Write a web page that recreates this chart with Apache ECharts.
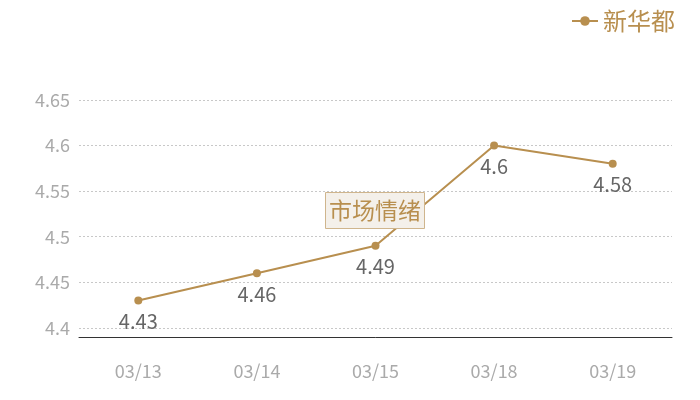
<!DOCTYPE html>
<html>
<head>
<meta charset="utf-8">
<script src="https://cdn.jsdelivr.net/npm/echarts@6/dist/echarts.min.js"></script>
<style>html,body{margin:0;padding:0;background:#fff}#c{width:700px;height:400px}</style>
</head>
<body>
<div id="c"></div>
<script>
var categories = ['03/13', '03/14', '03/15', '03/18', '03/19'];
var seriesName = '新华都';
var values = [4.43, 4.46, 4.49, 4.6, 4.58];
var annotationText = '市场情绪';

var gold = '#b88f4f';
var font = '"Noto Sans CJK SC", "Noto Sans", sans-serif';
var chart = echarts.init(document.getElementById('c'));
chart.setOption({
  animation: false,
  textStyle: { fontFamily: font },
  title: {
    text: annotationText,
    left: 325, top: 192,
    padding: [7, 4],
    backgroundColor: '#f4f0ea',
    borderColor: '#cfb58d',
    borderWidth: 1,
    textStyle: { fontSize: 23, fontWeight: 'normal', color: gold, fontFamily: font }
  },
  legend: {
    right: 20, top: 4,
    itemWidth: 26, itemHeight: 12,
    textStyle: { fontSize: 24, color: gold, fontFamily: font },
    data: [seriesName]
  },
  grid: { left: 79, right: 28, top: 100, bottom: 63 },
  xAxis: {
    type: 'category',
    data: categories,
    boundaryGap: true,
    axisLine: { lineStyle: { color: '#333', width: 1 } },
    axisTick: { show: false },
    axisLabel: { margin: 25, fontSize: 18, color: '#aaa', fontFamily: font }
  },
  yAxis: {
    type: 'value',
    min: 4.39, max: 4.65,
    splitNumber: 5,
    axisLine: { show: false },
    axisTick: { show: false },
    axisLabel: { showMinLabel: false, fontSize: 18, color: '#aaa', margin: 9, fontFamily: font },
    splitLine: { lineStyle: { color: '#c8c8c8', type: [2, 2], width: 1 } }
  },
  series: [{
    name: seriesName,
    type: 'line',
    data: values,
    symbol: 'circle',
    symbolSize: 8,
    itemStyle: { color: gold },
    lineStyle: { color: gold, width: 2 },
    label: { show: true, position: 'bottom', distance: 7, fontSize: 20, color: '#666', fontFamily: font }
  }]
});
</script>
</body>
</html>
